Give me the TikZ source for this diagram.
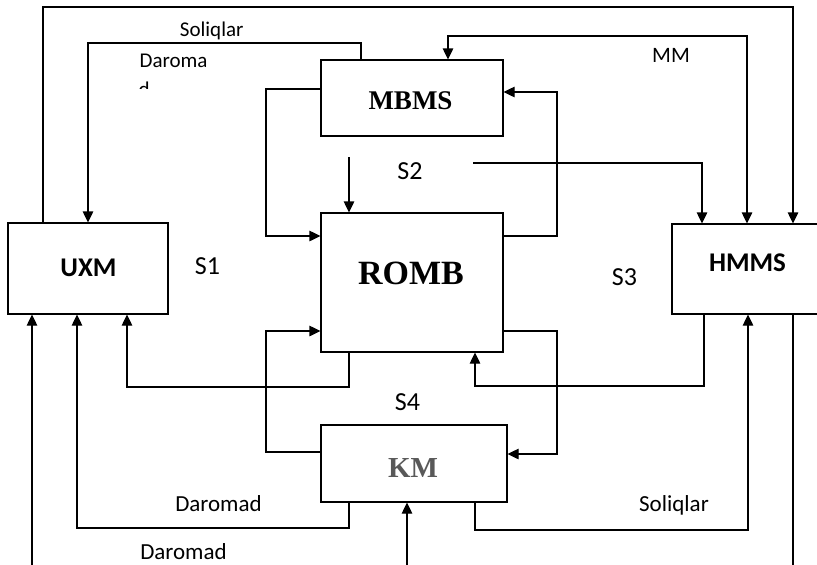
\documentclass[tikz,border=0pt]{standalone}
\usepackage{fontspec}
\setmainfont{Liberation Serif}
\newfontfamily\calfont{Carlito}
\usetikzlibrary{arrows.meta}

\begin{document}
\begin{tikzpicture}[x=1pt,y=-1pt,line width=1.2pt,>={Triangle[length=11pt,width=10.5pt]},
		blok/.style={draw,inner sep=0pt},
		toplbl/.style={font=\calfont\fontsize{21}{25}\selectfont,inner sep=0pt},
		botlbl/.style={font=\calfont\fontsize{23}{27}\selectfont,inner sep=0pt},
		slbl/.style={font=\calfont\fontsize{26}{30}\selectfont,inner sep=0pt},
		sansbox/.style={font=\calfont\bfseries\fontsize{27}{32}\selectfont,inner sep=0pt},
		serifbox/.style={font=\bfseries\fontsize{27}{32}\selectfont,inner sep=0pt}]
	\useasboundingbox (0,0) rectangle (817,565);
	\clip (0,0) rectangle (817,565);
	
	% boxes
	\node[blok,minimum width=160pt,minimum height=91pt] (uxm) at (88,268.5) {};
	\node[blok,minimum width=182pt,minimum height=76pt] (mbms) at (412,98) {};
	\node[blok,minimum width=182pt,minimum height=139pt] (romb) at (412,282.5) {};
	\node[blok,minimum width=186pt,minimum height=77pt] (km) at (414,463.5) {};
	\node[blok,minimum width=160pt,minimum height=90pt] (hmms) at (752,269) {};
	
	\node[sansbox] (uxmtxt) at (88.5,267.5) {UXM};
	\node[sansbox] (hmmstxt) at (747.5,262.5) {HMMS};
	\node[serifbox] (mbmstxt) at (410.5,101) {MBMS};
	\node[serifbox,font=\bfseries\fontsize{34}{40}\selectfont] (rombtxt) at (411,273.5) {ROMB};
	\node[serifbox,font=\bfseries\fontsize{29}{34}\selectfont,text=black!65] (kmtxt) at (413,468) {KM};
	
	% free ends
	\coordinate (s2out) at (473,163);
	\coordinate (s2in) at (349,157);
	\coordinate (inuxm) at (32,565);
	\coordinate (inkm) at (407,565);
	\coordinate (outhm) at (793,565);
	
	% connectors
	\draw[->] (uxm.north -| 43,0) -- (43,7) -| (hmms.north -| 793,0);
	\draw[->] (mbms.north -| 361,0) -- (361,43) -| (uxm.north -| 88,0);
	\draw[<->] (mbms.north -| 448,0) |- (747,36) -- (hmms.north -| 747,0);
	\draw[->] (s2out) -| (hmms.north -| 702,0);
	\draw[->] (s2in) -- (romb.north -| 349,0);
	
	\draw[->] (mbms.west |- 0,89) -| (266,236) -- (romb.west |- 0,236);
	\draw[->] (romb.east |- 0,236) -| (557,92) -- (mbms.east |- 0,92);
	\draw[->] (km.west |- 0,452) -| (266,331) -- (romb.west |- 0,331);
	\draw[->] (romb.east |- 0,331) -| (557,454) -- (km.east |- 0,454);
	
	\draw[->] (romb.south -| 349,0) |- (127,387) -- (uxm.south -| 127,0);
	\draw[->] (hmms.south -| 704,0) |- (475,386) -- (romb.south -| 475,0);
	\draw[->] (km.south -| 349,0) |- (77,528) -- (uxm.south -| 77,0);
	\draw[->] (km.south -| 475,0) |- (748,530) -- (hmms.south -| 748,0);
	
	\draw[->] (inuxm) -- (uxm.south -| 32,0);
	\draw[->] (inkm) -- (km.south -| 407,0);
	\draw (hmms.south -| 793,0) -- (outhm);
	
	% labels
	\node[toplbl,anchor=base] (soltop) at (211.7,36.7) {Soliqlar};
	\node[toplbl,anchor=base west] (dartop) at (139,67.5) {Daroma};
	\begin{scope}
		\clip (130,76) rectangle (160,88);
		\node[toplbl,anchor=base west] (darcut) at (138,96.5) {d};
	\end{scope}
	\node[toplbl,anchor=base,font=\calfont\fontsize{22}{26}\selectfont] (mm) at (671,62) {MM};
	\node[botlbl,anchor=base] (darmid) at (218.5,511.5) {Daromad};
	\node[botlbl,anchor=base] (darbot) at (183.5,559.5) {Daromad};
	\node[botlbl,anchor=base] (solbot) at (674,511.7) {Soliqlar};
	
	\node[slbl] (s1) at (207.5,266.5) {S1};
	\node[slbl] (s2) at (410,171.5) {S2};
	\node[slbl] (s3) at (624.5,277) {S3};
	\node[slbl] (s4) at (407.5,402) {S4};
\end{tikzpicture}
\end{document}
